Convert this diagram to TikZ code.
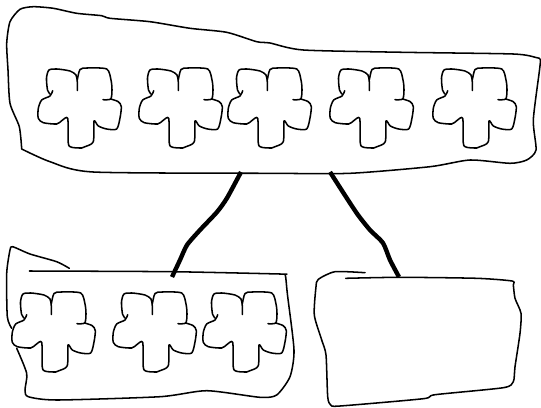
\documentclass[tikz,border=0pt]{standalone}
\usepackage{tikz}
\usetikzlibrary{positioning}
\tikzset{
  sketch/.style={draw=black, line width=1.15pt, line cap=round, line join=round},
  link/.style={draw=black, line width=3.3pt, line join=round},
  flower/.pic={
    \draw[sketch] plot[smooth, tension=0.45] coordinates {(50,94) (47.5,90) (46.5,78) (49,70) (57,69) (70,71) (76,75) (77.3,82) (77.3,90.5)};
    \draw[sketch] plot[smooth, tension=0.45] coordinates {(77.3,80) (80,69.5) (87,68) (106.7,69) (111,80) (112,90) (110.7,99) (103,99.7)};
    \draw[sketch] plot[smooth, tension=0.45] coordinates {(110.7,99) (118.3,101.7) (121.3,106.7) (120,118) (116.7,129) (106.7,129) (98.3,126) (94,121) (93.3,141.7) (85,146.7) (81.7,148) (71.7,147.3) (68.3,143.3) (67.7,118.3) (61.7,120.7) (56.7,124) (43.3,122.7) (38.3,118.3) (38.3,108.3) (41.7,100) (50,96) (52.7,90.7)};
  },
}
\begin{document}
\begin{tikzpicture}[x=0.75pt, y=-0.75pt]
  \useasboundingbox (0,0) rectangle (541,407);
  % top box
  \draw[sketch] plot[smooth, tension=0.4] coordinates {(21.7,149) (19.3,126.7) (10,103.3) (8,70) (6.7,43.3) (10,21.7) (20,9.3) (33.3,6.7) (53.3,8.3) (76.7,13.3) (101.7,15.7) (110,18.3) (150,21.7) (190,28.3) (226.7,32.3) (256.7,41.7) (270,43) (303.3,50) (403.3,52.3) (513.3,54) (536,57.5) (540.3,59.5) (539.5,70) (533.3,120) (536,150) (526.7,160) (510,163.3) (470,160) (430,166.7) (350,173.3) (270,173.3) (93.3,172) (50,161.7) (21.7,149)};
  \foreach \nx in {0,101,190,292,395}
    \pic at (\nx,0) {flower};
  % bottom left box
  \draw[sketch] plot[smooth, tension=0.4] coordinates {(29.3,271) (171.7,271.7) (280,274) (285,274.5) (286,280) (287.5,295) (294,350) (290,376.7) (276.7,395) (260,397.3) (206.7,390.7) (160,396.7) (56.7,400) (28.3,396.7) (25,390) (26.7,373.3) (16.7,348.3)};
  \draw[sketch] plot[smooth, tension=0.4] coordinates {(11.7,328.3) (7.3,316.7) (6.7,273.3) (10,250) (12.7,246.7) (30,254) (56.7,261.7) (69.3,268.3)};
  \foreach \nx in {-26,75,165}
    \pic at (\nx,224) {flower};
  % bottom right box
  \draw[sketch] plot[smooth, tension=0.4] coordinates {(365,272.7) (335,271.7) (318.3,279.3) (316,286.7) (314.3,315) (321.7,340) (326,355) (327.7,396.7) (330.7,405) (340,406) (423.3,398.7) (435,394.7) (503.3,387.7) (513.3,381.7) (515,366.7) (520,333.3) (521,313.3) (515,298.3) (513.3,285) (512,281) (476.7,278.3) (400,277.3) (345.7,278.3)};
  % connectors
  \coordinate (topa) at (241,172);
  \coordinate (topb) at (330,172);
  \coordinate (lefttop) at (172,277);
  \coordinate (righttop) at (399,277);
  \draw[link] plot[smooth, tension=0.4] coordinates {(topa) (227,198) (217,212) (200,230) (187,245) (180,260) (lefttop)};
  \draw[link] plot[smooth, tension=0.4] coordinates {(topb) (348,200) (358,215) (370,230) (383,243) (390,260) (righttop)};
\end{tikzpicture}
\end{document}
